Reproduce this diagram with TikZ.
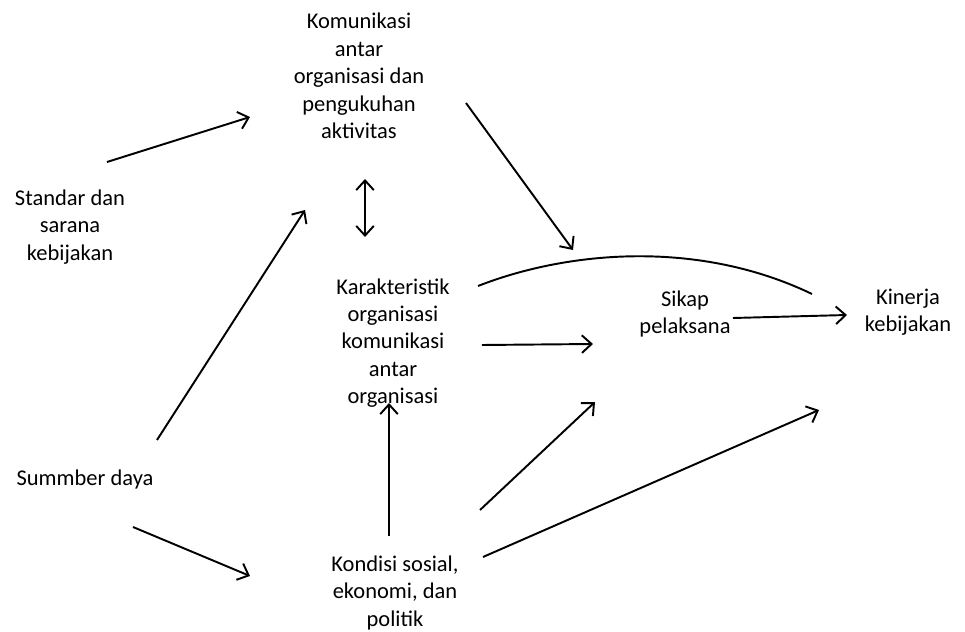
\documentclass[tikz,border=0pt]{standalone}
\usepackage{fontspec}
\setmainfont{Carlito}
\usetikzlibrary{arrows.meta}

\tikzset{
    lbl/.style={align=center, font=\fontsize{12.8}{15.6}\selectfont, inner sep=0pt},
    arr/.style={line width=1.1pt, -{Straight Barb[length=5.5pt,width=10pt,line width=1.1pt]}},
    darr/.style={line width=1.1pt, {Straight Barb[length=5.5pt,width=10pt,line width=1.1pt]}-{Straight Barb[length=5.5pt,width=10pt,line width=1.1pt]}}
}

\begin{document}
\begin{tikzpicture}[x=0.02cm, y=-0.02cm]
    % page frame in pixel units
    \useasboundingbox (0,0) rectangle (965,632);

    % Labels
    \node[lbl] (kom) at (359,76) {Komunikasi\\antar\\organisasi dan\\pengukuhan\\aktivitas};
    \node[lbl] (std) at (70,227) {Standar dan\\sarana\\kebijakan};
    \node[lbl] (kar) at (393,343) {Karakteristik\\organisasi\\komunikasi\\antar\\organisasi};
    \node[lbl] (sikap) at (685,314) {Sikap\\pelaksana};
    \node[lbl] (kin) at (908,312) {Kinerja\\kebijakan};
    \node[lbl] (sum) at (85,480) {Summber daya};
    \node[lbl] (kon) at (395,593) {Kondisi sosial,\\ekonomi, dan\\politik};

    % Arrow end points
    \coordinate (std-o) at (107,162);
    \coordinate (kom-i1) at (250,117);
    \coordinate (kom-o) at (466,103);
    \coordinate (sikap-i1) at (573,250);
    \coordinate (kom-s) at (365,179);
    \coordinate (kar-n) at (365,237);
    \coordinate (sum-o1) at (157,440);
    \coordinate (kom-i2) at (305,210);
    \coordinate (kar-c) at (478,286);
    \coordinate (kin-c) at (812,294);
    \coordinate (kar-o) at (482,345);
    \coordinate (sikap-i2) at (593,344);
    \coordinate (sikap-o) at (733,318);
    \coordinate (kin-i1) at (847,315);
    \coordinate (kon-o1) at (389,536);
    \coordinate (kar-s) at (389,403);
    \coordinate (sum-o2) at (133,527);
    \coordinate (kon-i) at (250,576);
    \coordinate (kon-o2) at (480,510);
    \coordinate (sikap-i3) at (595,402);
    \coordinate (kon-o3) at (483,557);
    \coordinate (kin-i2) at (819,410);

    % Connectors
    \draw[arr] (std-o) -- (kom-i1);
    \draw[arr] (kom-o) -- (sikap-i1);
    \draw[darr] (kom-s) -- (kar-n);
    \draw[arr] (sum-o1) -- (kom-i2);
    \draw[line width=1.1pt] (kar-c) .. controls (570,250) and (700,240) .. (kin-c);
    \draw[arr] (kar-o) -- (sikap-i2);
    \draw[arr] (sikap-o) -- (kin-i1);
    \draw[arr] (kon-o1) -- (kar-s);
    \draw[arr] (sum-o2) -- (kon-i);
    \draw[arr] (kon-o2) -- (sikap-i3);
    \draw[arr] (kon-o3) -- (kin-i2);
\end{tikzpicture}
\end{document}
